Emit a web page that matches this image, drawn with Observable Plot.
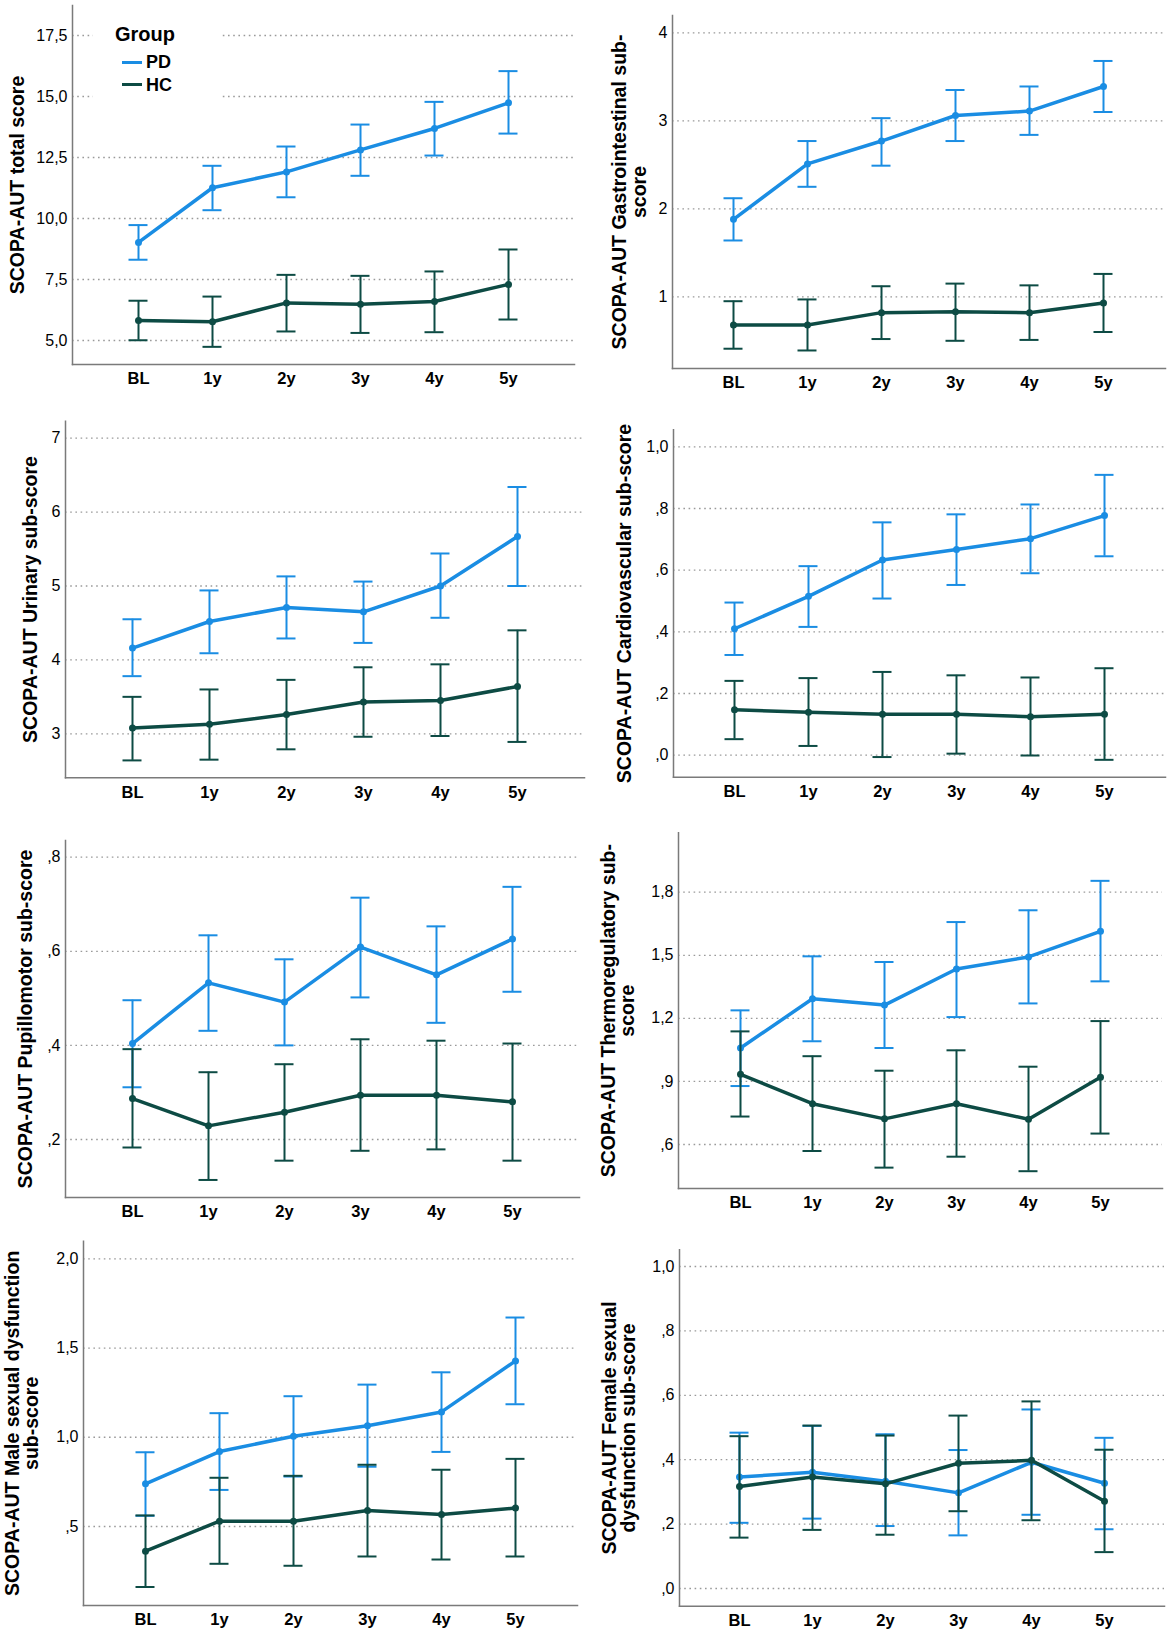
<!DOCTYPE html>
<html><head><meta charset="utf-8">
<script src="https://cdn.jsdelivr.net/npm/d3@7"></script>
<script src="https://cdn.jsdelivr.net/npm/@observablehq/plot@0.6"></script>
<style>
body{margin:0;background:#fff;}
#wrap{position:relative;width:1168px;height:1637px;overflow:hidden;font-family:"Liberation Sans",Arial,Helvetica,sans-serif;background:#fff;}
.panel{position:absolute;}
#legend{position:absolute;left:93px;top:15px;width:128px;height:90px;background:#fff;}
#legend .t{position:absolute;font-weight:bold;white-space:nowrap;}
#legend .sw{position:absolute;height:3px;width:20px;}
</style></head><body><div id="wrap"></div>
<script>
const timepoints = ["BL","1y","2y","3y","4y","5y"];
const groups = ["PD","HC"];

// SCOPA-AUT total score
const totalPDMean = [9.02, 11.26, 11.91, 12.81, 13.69, 14.74];
const totalPDLow  = [8.31, 10.34, 10.87, 11.75, 12.58, 13.48];
const totalPDHigh = [9.73, 12.16, 12.95, 13.85, 14.78, 16.04];
const totalHCMean = [5.82, 5.77, 6.54, 6.49, 6.60, 7.30];
const totalHCLow  = [5.01, 4.74, 5.37, 5.31, 5.34, 5.86];
const totalHCHigh = [6.63, 6.80, 7.69, 7.65, 7.83, 8.73];
const totalTicks = [5, 7.5, 10, 12.5, 15, 17.5];
const totalTickLabels = ["5,0","7,5","10,0","12,5","15,0","17,5"];

// Gastrointestinal
const giPDMean = [1.88, 2.51, 2.77, 3.06, 3.11, 3.39];
const giPDLow  = [1.64, 2.25, 2.49, 2.77, 2.84, 3.10];
const giPDHigh = [2.12, 2.77, 3.03, 3.35, 3.39, 3.68];
const giHCMean = [0.68, 0.68, 0.82, 0.83, 0.82, 0.93];
const giHCLow  = [0.41, 0.39, 0.52, 0.50, 0.51, 0.60];
const giHCHigh = [0.95, 0.97, 1.12, 1.15, 1.13, 1.26];
const giTicks = [1, 2, 3, 4];
const giTickLabels = ["1","2","3","4"];

// Urinary
const urPDMean = [4.16, 4.52, 4.71, 4.65, 5.00, 5.67];
const urPDLow  = [3.78, 4.09, 4.29, 4.23, 4.57, 5.00];
const urPDHigh = [4.55, 4.94, 5.13, 5.06, 5.44, 6.34];
const urHCMean = [3.08, 3.13, 3.26, 3.43, 3.45, 3.64];
const urHCLow  = [2.64, 2.65, 2.79, 2.96, 2.97, 2.89];
const urHCHigh = [3.50, 3.60, 3.73, 3.90, 3.94, 4.40];
const urTicks = [3, 4, 5, 6, 7];
const urTickLabels = ["3","4","5","6","7"];

// Cardiovascular
const cvPDMean = [0.410, 0.515, 0.633, 0.667, 0.702, 0.777];
const cvPDLow  = [0.325, 0.416, 0.508, 0.552, 0.590, 0.645];
const cvPDHigh = [0.495, 0.613, 0.755, 0.781, 0.813, 0.909];
const cvHCMean = [0.147, 0.139, 0.133, 0.133, 0.125, 0.133];
const cvHCLow  = [0.052, 0.030, -0.006, 0.005, -0.001, -0.015];
const cvHCHigh = [0.241, 0.250, 0.270, 0.259, 0.252, 0.282];
const cvTicks = [0, 0.2, 0.4, 0.6, 0.8, 1.0];
const cvTickLabels = [",0",",2",",4",",6",",8","1,0"];

// Pupillomotor
const puPDMean = [0.404, 0.533, 0.492, 0.609, 0.550, 0.626];
const puPDLow  = [0.311, 0.431, 0.400, 0.502, 0.448, 0.514];
const puPDHigh = [0.496, 0.634, 0.583, 0.714, 0.653, 0.737];
const puHCMean = [0.287, 0.229, 0.258, 0.294, 0.294, 0.280];
const puHCLow  = [0.183, 0.114, 0.155, 0.176, 0.179, 0.155];
const puHCHigh = [0.392, 0.343, 0.360, 0.413, 0.410, 0.404];
const puTicks = [0.2, 0.4, 0.6, 0.8];
const puTickLabels = [",2",",4",",6",",8"];

// Thermoregulatory
const thPDMean = [1.059, 1.293, 1.263, 1.435, 1.492, 1.614];
const thPDLow  = [0.878, 1.091, 1.059, 1.206, 1.271, 1.376];
const thPDHigh = [1.238, 1.495, 1.468, 1.658, 1.714, 1.854];
const thHCMean = [0.934, 0.794, 0.722, 0.794, 0.720, 0.920];
const thHCLow  = [0.733, 0.569, 0.490, 0.542, 0.473, 0.652];
const thHCHigh = [1.138, 1.020, 0.951, 1.048, 0.970, 1.187];
const thTicks = [0.6, 0.9, 1.2, 1.5, 1.8];
const thTickLabels = [",6",",9","1,2","1,5","1,8"];

// Male sexual dysfunction
const msPDMean = [0.739, 0.920, 1.006, 1.065, 1.142, 1.428];
const msPDLow  = [0.560, 0.705, 0.780, 0.835, 0.918, 1.185];
const msPDHigh = [0.916, 1.135, 1.230, 1.295, 1.364, 1.671];
const msHCMean = [0.362, 0.530, 0.530, 0.590, 0.567, 0.603];
const msHCLow  = [0.161, 0.291, 0.280, 0.332, 0.315, 0.332];
const msHCHigh = [0.562, 0.773, 0.784, 0.846, 0.818, 0.879];
const msTicks = [0.5, 1.0, 1.5, 2.0];
const msTickLabels = [",5","1,0","1,5","2,0"];

// Female sexual dysfunction
const fsPDMean = [0.346, 0.361, 0.333, 0.297, 0.392, 0.327];
const fsPDLow  = [0.204, 0.217, 0.194, 0.165, 0.229, 0.184];
const fsPDHigh = [0.484, 0.505, 0.479, 0.430, 0.556, 0.468];
const fsHCMean = [0.317, 0.346, 0.325, 0.389, 0.398, 0.271];
const fsHCLow  = [0.158, 0.182, 0.167, 0.240, 0.212, 0.113];
const fsHCHigh = [0.473, 0.506, 0.475, 0.537, 0.581, 0.431];
const fsTicks = [0, 0.2, 0.4, 0.6, 0.8, 1.0];
const fsTickLabels = [",0",",2",",4",",6",",8","1,0"];

const colors = {PD: "#1a8de3", HC: "#0d4b44"};

function rows(means, lows, highs, group) {
  return timepoints.map((t, i) => ({t, group, mean: means[i], lo: lows[i], hi: highs[i]}));
}

const panels = [
  {label: "SCOPA-AUT total score", ticks: totalTicks, tickLabels: totalTickLabels,
   pd: rows(totalPDMean, totalPDLow, totalPDHigh, "PD"), hc: rows(totalHCMean, totalHCLow, totalHCHigh, "HC"),
   box: {left: 0, top: 0, w: 584, h: 395}, m: {l: 72, r: 10, t: 5, b: 31}, yr: [5, 340, 17.5, 35], xr: [137, 509], lx: 17},
  {label: "SCOPA-AUT Gastrointestinal sub-\nscore", ticks: giTicks, tickLabels: giTickLabels,
   pd: rows(giPDMean, giPDLow, giPDHigh, "PD"), hc: rows(giHCMean, giHCLow, giHCHigh, "HC"),
   box: {left: 584, top: 0, w: 584, h: 395}, m: {l: 88, r: 3, t: 15, b: 27}, yr: [1, 296.3, 4, 32.3], xr: [149, 519], lx: 45},
  {label: "SCOPA-AUT Urinary sub-score", ticks: urTicks, tickLabels: urTickLabels,
   pd: rows(urPDMean, urPDLow, urPDHigh, "PD"), hc: rows(urHCMean, urHCLow, urHCHigh, "HC"),
   box: {left: 0, top: 395, w: 584, h: 400}, m: {l: 65, r: 0, t: 25.7, b: 17.7}, yr: [3, 338.3, 7, 42.7], xr: [130, 519], lx: 30},
  {label: "SCOPA-AUT Cardiovascular sub-score", ticks: cvTicks, tickLabels: cvTickLabels,
   pd: rows(cvPDMean, cvPDLow, cvPDHigh, "PD"), hc: rows(cvHCMean, cvHCLow, cvHCHigh, "HC"),
   box: {left: 584, top: 395, w: 584, h: 400}, m: {l: 89, r: 3, t: 34.3, b: 18.3}, yr: [0, 359.7, 1, 51.3], xr: [150, 520], lx: 40},
  {label: "SCOPA-AUT Pupillomotor sub-score", ticks: puTicks, tickLabels: puTickLabels,
   pd: rows(puPDMean, puPDLow, puPDHigh, "PD"), hc: rows(puHCMean, puHCLow, puHCHigh, "HC"),
   box: {left: 0, top: 795, w: 584, h: 420}, m: {l: 65, r: 5, t: 45, b: 18}, yr: [0.2, 344, 0.8, 61.7], xr: [130, 514], lx: 25},
  {label: "SCOPA-AUT Thermoregulatory sub-\nscore", ticks: thTicks, tickLabels: thTickLabels,
   pd: rows(thPDMean, thPDLow, thPDHigh, "PD"), hc: rows(thHCMean, thHCLow, thHCHigh, "HC"),
   box: {left: 584, top: 795, w: 584, h: 420}, m: {l: 94, r: 6, t: 37.3, b: 27}, yr: [0.6, 349, 1.8, 96.7], xr: [154, 518], lx: 33.5},
  {label: "SCOPA-AUT Male sexual dysfunction\nsub-score", ticks: msTicks, tickLabels: msTickLabels,
   pd: rows(msPDMean, msPDLow, msPDHigh, "PD"), hc: rows(msHCMean, msHCLow, msHCHigh, "HC"),
   box: {left: 0, top: 1215, w: 584, h: 422}, m: {l: 83, r: 7, t: 25.7, b: 32}, yr: [0.5, 311, 2.0, 43.3], xr: [145, 515], lx: 21.5},
  {label: "SCOPA-AUT Female sexual\ndysfunction sub-score", ticks: fsTicks, tickLabels: fsTickLabels,
   pd: rows(fsPDMean, fsPDLow, fsPDHigh, "PD"), hc: rows(fsHCMean, fsHCLow, fsHCHigh, "HC"),
   box: {left: 584, top: 1215, w: 584, h: 422}, m: {l: 95, r: 4, t: 34.3, b: 31.3}, yr: [0, 373, 1, 51], xr: [155, 520], lx: 34.5}
];

const wrap = document.getElementById("wrap");

function seriesMarks(data, color) {
  return [
    Plot.ruleX(data, {x: "t", y1: "lo", y2: "hi", stroke: color, strokeWidth: 2}),
    Plot.ruleY(data, {x1: "t", x2: "t", y: "hi", stroke: color, strokeWidth: 2, insetLeft: -9.5, insetRight: -9.5}),
    Plot.ruleY(data, {x1: "t", x2: "t", y: "lo", stroke: color, strokeWidth: 2, insetLeft: -9.5, insetRight: -9.5}),
    Plot.line(data, {x: "t", y: "mean", stroke: color, strokeWidth: 3.5}),
    Plot.dot(data, {x: "t", y: "mean", r: 3.5, fill: color})
  ];
}

panels.forEach((p) => {
  const labelMap = new Map(p.ticks.map((v, i) => [v, p.tickLabels[i]]));
  const chart = Plot.plot({
    width: p.box.w,
    height: p.box.h,
    marginLeft: p.m.l, marginRight: p.m.r, marginTop: p.m.t, marginBottom: p.m.b,
    style: {fontFamily: "'Liberation Sans', Arial, Helvetica, sans-serif", fontSize: "16px", background: "transparent", overflow: "visible", color: "#000"},
    x: {type: "point", domain: timepoints, range: p.xr, padding: 0},
    y: {type: "linear", domain: [p.yr[0], p.yr[2]], range: [p.yr[1], p.yr[3]], clamp: false},
    marks: [
      Plot.ruleY(p.ticks, {stroke: "#9a9a9a", strokeWidth: 1.3, strokeDasharray: "1.6,3.6"}),
      Plot.axisY({ticks: p.ticks, tickFormat: (d) => labelMap.get(d), tickSize: 0, tickPadding: 5, fontSize: 16, label: null}),
      Plot.axisX({tickSize: 0, tickPadding: 8, fontSize: 16.5, fontWeight: "bold", label: null}),
      Plot.frame({anchor: "left", stroke: "#7a7a7a", strokeWidth: 1.5}),
      Plot.frame({anchor: "bottom", stroke: "#7a7a7a", strokeWidth: 1.5}),
      Plot.text([p.label], {text: (d) => d, frameAnchor: "left", dx: p.lx - p.m.l, rotate: -90, textAnchor: "middle", fontWeight: "bold", fontSize: 19.5, lineHeight: 1.0, fill: "#000"}),
      ...seriesMarks(p.pd, colors.PD),
      ...seriesMarks(p.hc, colors.HC)
    ]
  });
  chart.classList.add("panel");
  chart.style.left = p.box.left + "px";
  chart.style.top = p.box.top + "px";
  wrap.appendChild(chart);
});

// Legend
const legend = document.createElement("div");
legend.id = "legend";
legend.innerHTML =
  `<div class="t" style="left:22px;top:7px;font-size:20px;line-height:24px;">Group</div>` +
  groups.map((g, i) =>
    `<div class="sw" style="left:29px;top:${45.5 + i * 22.5}px;background:${colors[g]}"></div>` +
    `<div class="t" style="left:53px;top:${36 + i * 22.5}px;font-size:18px;line-height:22px;">${g}</div>`
  ).join("");
wrap.appendChild(legend);
</script>
</body></html>
